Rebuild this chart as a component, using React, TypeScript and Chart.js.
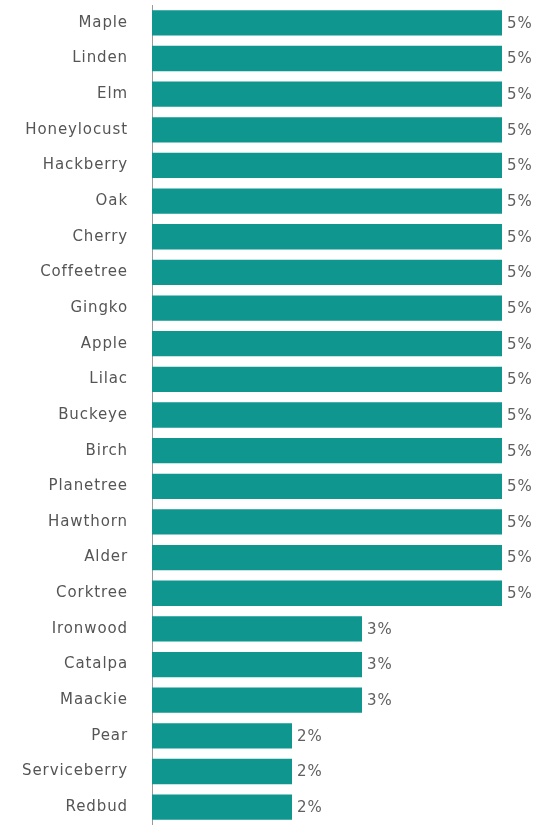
import React, { useEffect, useRef } from "react";
import { Chart, registerables } from "chart.js";

Chart.register(...registerables);

const categories = [
  "Maple", "Linden", "Elm", "Honeylocust", "Hackberry", "Oak", "Cherry", "Coffeetree",
  "Gingko", "Apple", "Lilac", "Buckeye", "Birch", "Planetree", "Hawthorn", "Alder",
  "Corktree", "Ironwood", "Catalpa", "Maackie", "Pear", "Serviceberry", "Redbud",
];
const values = [5, 5, 5, 5, 5, 5, 5, 5, 5, 5, 5, 5, 5, 5, 5, 5, 5, 3, 3, 3, 2, 2, 2];
const valueLabels = values.map((v) => `${v}%`);

const FONT = "'DejaVu Sans', sans-serif";

const spacingPlugin = {
  id: "spacing",
  beforeDraw(chart: any) {
    chart.ctx.letterSpacing = "0.9px";
  },
};

const labelPlugin = {
  id: "valueLabels",
  afterDatasetsDraw(chart: any) {
    const { ctx } = chart;
    const meta = chart.getDatasetMeta(0);
    ctx.save();
    ctx.letterSpacing = "0.9px";
    ctx.font = `15px ${FONT}`;
    ctx.fillStyle = "#606060";
    ctx.textAlign = "left";
    ctx.textBaseline = "middle";
    meta.data.forEach((bar: any, i: number) => {
      ctx.fillText(valueLabels[i], bar.x + 5, bar.y + 1);
    });
    ctx.restore();
  },
};

export default function App() {
  const ref = useRef<HTMLCanvasElement>(null);
  useEffect(() => {
    if (!ref.current) return;
    const chart = new Chart(ref.current, {
      type: "bar",
      data: {
        labels: categories,
        datasets: [
          {
            data: values,
            backgroundColor: "#0e968f",
            barPercentage: 0.71,
            categoryPercentage: 1,
          },
        ],
      },
      options: {
        indexAxis: "y",
        animation: false,
        responsive: false,
        maintainAspectRatio: false,
        layout: { autoPadding: false, padding: { top: 5, bottom: 0, left: 0, right: 10 } },
        plugins: { legend: { display: false }, tooltip: { enabled: false } },
        scales: {
          x: { display: false, min: 0, max: 5.5 },
          y: {
            grid: { display: false, drawTicks: true, tickLength: 36, tickColor: "rgba(0,0,0,0)" },
            border: { display: true, color: "#9a9a9a", width: 1 },
            ticks: {
              color: "#555",
              font: { size: 15, family: FONT },
              padding: -12,
            },
            afterFit(scale: any) {
              scale.width = 152;
            },
          },
        },
      },
      plugins: [spacingPlugin, labelPlugin],
    });
    return () => chart.destroy();
  }, []);
  return (
    <div style={{ position: "fixed", left: 0, top: 0, width: 547, height: 825, background: "#fff" }}>
      <canvas ref={ref} width={547} height={825} style={{ width: 547, height: 825 }} />
    </div>
  );
}
